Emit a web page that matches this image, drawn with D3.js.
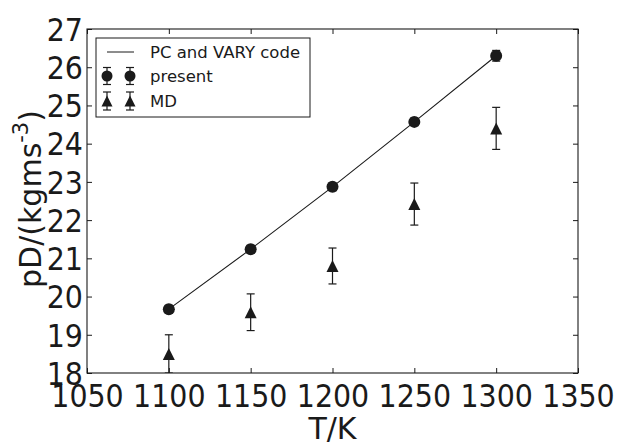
<!DOCTYPE html>
<html>
<head>
<meta charset="utf-8">
<script src="https://cdn.jsdelivr.net/npm/d3@7"></script>
<style>
  html, body { margin: 0; padding: 0; background: #fff; }
  svg { display: block; }
  text { font-family: "DejaVu Sans", sans-serif; fill: #1a1a1a; }
</style>
</head>
<body>
<svg id="chart" width="618" height="443"></svg>
<script>
// ---- data ----
const temps = [1100, 1150, 1200, 1250, 1300];
const pcVals = [19.67, 21.24, 22.87, 24.57, 26.30];
const presentVals = [19.67, 21.24, 22.87, 24.57, 26.30];
const presentErr = [0.10, 0.10, 0.10, 0.10, 0.14];
const mdVals = [18.50, 19.59, 20.80, 22.42, 24.40];
const mdErr = [0.50, 0.48, 0.47, 0.55, 0.55];
const xTicks = [1050, 1100, 1150, 1200, 1250, 1300, 1350];
const yTicks = [18, 19, 20, 21, 22, 23, 24, 25, 26, 27];
const legendLabels = ["PC and VARY code", "present", "MD"];

// ---- layout ----
const m = { left: 87, right: 578, top: 29, bottom: 373 };
const ink = "#1a1a1a";
const fs = 28.5, sy = 1.1;

const svg = d3.select("#chart");
const x = d3.scaleLinear().domain([1050, 1350]).range([m.left, m.right]);
const y = d3.scaleLinear().domain([18, 27]).range([m.bottom, m.top]);

svg.append("defs").append("clipPath").attr("id", "clip")
  .append("rect").attr("x", m.left).attr("y", m.top)
  .attr("width", m.right - m.left).attr("height", m.bottom - m.top);

const triPath = s => `M0,${-s}L${-s},${s}L${s},${s}Z`;

// ---- axes ----
function styleAxis(g) {
  g.select(".domain").remove();
  g.selectAll(".tick line").attr("stroke", ink).attr("stroke-width", 1);
}
svg.append("g").attr("transform", `translate(0,${m.bottom})`)
  .call(d3.axisBottom(x).tickValues(xTicks).tickFormat(d3.format("d")).tickSize(-5).tickPadding(0))
  .call(styleAxis)
  .call(g => g.selectAll("text").attr("y", 34 / sy).attr("dy", 0).attr("transform", `scale(1,${sy})`)
    .attr("font-size", fs).attr("font-family", "DejaVu Sans").attr("fill", ink));
svg.append("g").attr("transform", `translate(0,${m.top})`)
  .call(d3.axisTop(x).tickValues(xTicks).tickFormat("").tickSize(-5))
  .call(styleAxis);
svg.append("g").attr("transform", `translate(${m.left},0)`)
  .call(d3.axisLeft(y).tickValues(yTicks).tickFormat(d3.format("d")).tickSize(-5).tickPadding(0))
  .call(styleAxis)
  .call(g => g.selectAll("text").attr("x", -4).attr("dy", "0.36em").attr("transform", `scale(1,${sy})`)
    .attr("font-size", fs).attr("font-family", "DejaVu Sans").attr("fill", ink));
svg.append("g").attr("transform", `translate(${m.right},0)`)
  .call(d3.axisRight(y).tickValues(yTicks).tickFormat("").tickSize(-5))
  .call(styleAxis);

svg.append("rect").attr("x", m.left).attr("y", m.top)
  .attr("width", m.right - m.left).attr("height", m.bottom - m.top)
  .attr("fill", "none").attr("stroke", ink).attr("stroke-width", 1.1);

// ---- axis labels ----
const lfs = 30;
svg.append("text").attr("x", (m.left + m.right) / 2).attr("y", 439)
  .attr("text-anchor", "middle").attr("font-size", lfs).text("T/K");
const yl = svg.append("text")
  .attr("transform", `translate(41,${(m.top + m.bottom) / 2 - 2}) rotate(-90)`)
  .attr("text-anchor", "middle").attr("font-size", lfs);
yl.append("tspan").text("pD/(kgms");
yl.append("tspan").attr("font-size", lfs * 0.7).attr("dy", -13).text("-3");
yl.append("tspan").attr("dy", 13).text(")");

// ---- marks ----
const plot = svg.append("g").attr("clip-path", "url(#clip)");

plot.append("path")
  .datum(temps.map((t, i) => [t, pcVals[i]]))
  .attr("d", d3.line().x(d => x(d[0])).y(d => y(d[1])))
  .attr("fill", "none").attr("stroke", ink).attr("stroke-width", 1.1);

function errorBars(vals, errs) {
  const g = plot.append("g").attr("stroke", ink).attr("stroke-width", 1.2);
  temps.forEach((t, i) => {
    const cx = x(t), y1 = y(vals[i] + errs[i]), y0 = y(vals[i] - errs[i]);
    g.append("line").attr("x1", cx).attr("x2", cx).attr("y1", y1).attr("y2", y0);
    g.append("line").attr("x1", cx - 4).attr("x2", cx + 4).attr("y1", y1).attr("y2", y1);
    g.append("line").attr("x1", cx - 4).attr("x2", cx + 4).attr("y1", y0).attr("y2", y0);
  });
}
errorBars(presentVals, presentErr);
errorBars(mdVals, mdErr);

plot.selectAll("circle.present").data(temps).join("circle")
  .attr("cx", d => x(d)).attr("cy", (d, i) => y(presentVals[i])).attr("r", 6)
  .attr("fill", ink);
plot.selectAll("path.md").data(temps).join("path").attr("class", "md")
  .attr("transform", (d, i) => `translate(${x(d)},${y(mdVals[i])})`)
  .attr("d", triPath(6)).attr("fill", ink);

// ---- legend ----
const lg = svg.append("g");
lg.append("rect").attr("x", 96).attr("y", 38).attr("width", 214).attr("height", 79)
  .attr("fill", "#fff").attr("stroke", ink).attr("stroke-width", 1);
const rows = [52, 76, 101];
lg.append("line").attr("x1", 107).attr("x2", 134).attr("y1", rows[0]).attr("y2", rows[0])
  .attr("stroke", ink).attr("stroke-width", 1);
[107, 130].forEach(cx => {
  [[1, 8.5], [2, 9]].forEach(([r, h]) => {
    const cy = rows[r];
    lg.append("line").attr("x1", cx).attr("x2", cx).attr("y1", cy - h).attr("y2", cy + h)
      .attr("stroke", ink).attr("stroke-width", 1.2);
    [cy - h, cy + h].forEach(yy => lg.append("line").attr("x1", cx - 4).attr("x2", cx + 4)
      .attr("y1", yy).attr("y2", yy).attr("stroke", ink).attr("stroke-width", 1.2));
  });
  lg.append("circle").attr("cx", cx).attr("cy", rows[1]).attr("r", 5.5).attr("fill", ink);
  lg.append("path").attr("transform", `translate(${cx},${rows[2]})`).attr("d", triPath(5.5)).attr("fill", ink);
});
legendLabels.forEach((t, i) => {
  lg.append("text").attr("x", 150).attr("y", rows[i]).attr("dy", "0.36em")
    .attr("font-size", 16.5).text(t);
});
</script>
</body>
</html>
